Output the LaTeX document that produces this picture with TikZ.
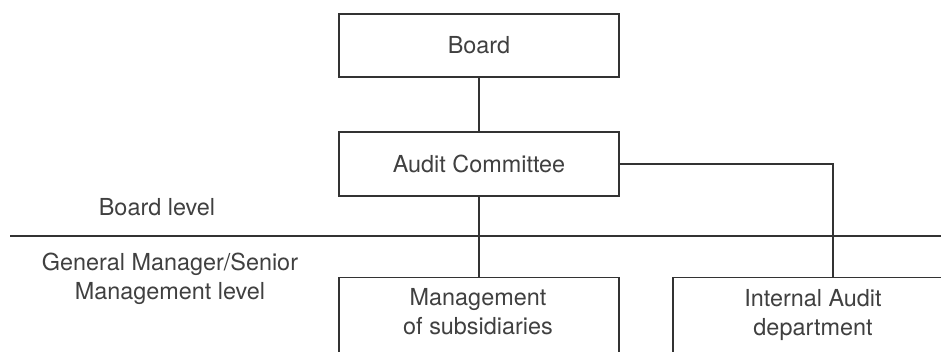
\documentclass[tikz,border=0pt]{standalone}
\usepackage{fontspec}
\setmainfont{TeX Gyre Heros}
\begin{document}
\begin{tikzpicture}[x=1pt,y=-1pt,
  every node/.style={text=black!75, font=\fontsize{23.4}{29}\selectfont},
  box/.style={draw=black!80, line width=1.3pt, minimum width=280pt, inner sep=0pt},
  conn/.style={draw=black!80, line width=1.3pt}]
\useasboundingbox (0,0) rectangle (941,352);
\clip (0,0) rectangle (941,352);
\fill[white] (0,0) rectangle (941,352);
\node[box, minimum height=63pt] (board) at (479,45.5) {Board};
\node[box, minimum height=64pt] (ac) at (479,164) {Audit Committee};
\node[box, minimum height=100pt, anchor=north] (mgmt) at (479,277) {};
\node[align=center] (mgmtlabel) at (478,311.5) {Management\\of subsidiaries};
\node[box, minimum height=100pt, anchor=north] (ia) at (813,277) {};
\node[align=center] (ialabel) at (813,315.5) {Internal Audit\\department};
\coordinate (iatop) at (833,277);
\coordinate (divl) at (10,236);
\coordinate (divr) at (945,236);
\node (bl) at (157,207) {Board level};
\node[align=center] (gm) at (170,278.5) {General Manager/Senior\\Management level};
\draw[conn] (board.south) -- (ac.north);
\draw[conn] (ac.south) -- (mgmt.north);
\draw[conn] (ac.east) -| (iatop);
\draw[conn] (divl) -- (divr);
\end{tikzpicture}
\end{document}
